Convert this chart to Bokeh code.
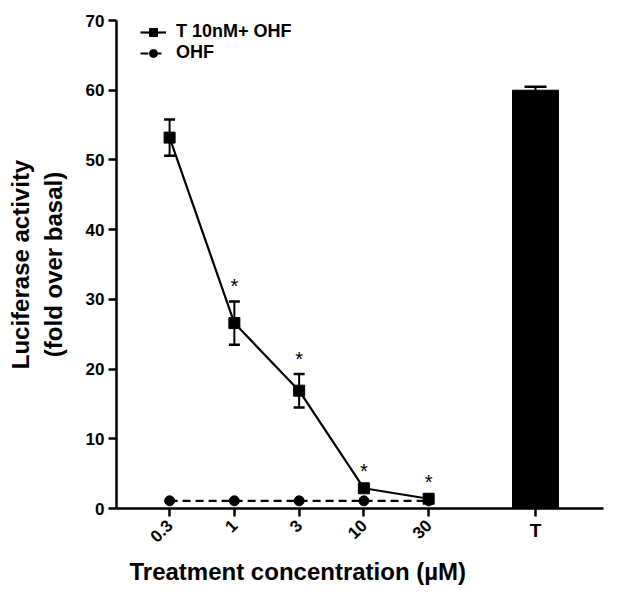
import numpy as np
from bokeh.plotting import figure
from bokeh.models import (ColumnDataSource, Whisker, TeeHead, FixedTicker, Range1d,
                          Legend, LegendItem, Label, Title)
from bokeh.core.properties import value
from bokeh.embed import file_html
from bokeh.resources import INLINE

# ---- data ----
conc_labels = ["0.3", "1", "3", "10", "30"]
conc_pos = [1, 2, 3, 4, 5]
t_ohf_mean = [53.2, 26.6, 16.9, 2.9, 1.4]
t_ohf_err = [2.6, 3.1, 2.4, 0.3, 0.2]
ohf_mean = [1.1, 1.1, 1.1, 1.1, 1.1]
signif = [False, True, True, True, True]
t_label = "T"
t_pos = 6.65
t_mean = 60.0
t_err = 0.5

FONT = "Liberation Sans"

p = figure(width=621, height=601, output_backend="svg", toolbar_location=None,
           x_range=Range1d(0.18, 7.70), y_range=Range1d(0, 70),
           min_border_left=116, min_border_top=20, min_border_right=18, min_border_bottom=93)
p.outline_line_color = None
p.xgrid.visible = False
p.ygrid.visible = False

# bar for T
p.vbar(x=[t_pos], top=[t_mean], width=0.71, color="black")
bar_src = ColumnDataSource(dict(x=[t_pos], up=[t_mean + t_err], lo=[t_mean]))
p.add_layout(Whisker(source=bar_src, base="x", upper="up", lower="lo", dimension="height",
                     line_width=2, line_color="black",
                     upper_head=TeeHead(size=22, line_width=2.5, line_color="black"),
                     lower_head=None))

# OHF dashed line
l2 = p.line(conc_pos, ohf_mean, line_color="black", line_width=2.2, line_dash="8 5")
c2 = p.scatter(conc_pos, ohf_mean, marker="circle", size=10, color="black")

# T + OHF line
l1 = p.line(conc_pos, t_ohf_mean, line_color="black", line_width=2.2)
s1 = p.scatter(conc_pos, t_ohf_mean, marker="square", size=11, color="black")
up = [m + e for m, e in zip(t_ohf_mean, t_ohf_err)]
lo = [m - e for m, e in zip(t_ohf_mean, t_ohf_err)]
err_src = ColumnDataSource(dict(x=conc_pos, up=up, lo=lo))
p.add_layout(Whisker(source=err_src, base="x", upper="up", lower="lo", dimension="height",
                     line_width=2, line_color="black",
                     upper_head=TeeHead(size=11, line_width=2.5, line_color="black"),
                     lower_head=TeeHead(size=11, line_width=2.5, line_color="black")))

# significance asterisks
sx = [x for x, s in zip(conc_pos, signif) if s]
sy = [u + 0.6 for u, s in zip(up, signif) if s]
p.text(x=sx, y=sy, text=["*"] * len(sx), text_align="center", text_baseline="bottom",
       text_font=value(FONT), text_font_size="20px", text_color="black")

# axes
ticks = conc_pos + [t_pos]
p.xaxis.ticker = FixedTicker(ticks=ticks)
overrides = {x: l for x, l in zip(conc_pos, conc_labels)}
overrides[t_pos] = ""
p.xaxis.major_label_overrides = overrides
p.xaxis.major_label_orientation = np.pi / 4
p.yaxis.ticker = FixedTicker(ticks=list(range(0, 71, 10)))
for ax in (p.xaxis, p.yaxis):
    ax.axis_line_width = 2.5
    ax.axis_line_color = "black"
    ax.major_tick_line_width = 2.5
    ax.major_tick_line_color = "black"
    ax.major_tick_in = 0
    ax.major_tick_out = 8
    ax.minor_tick_line_color = None
    ax.major_label_text_font = FONT
    ax.major_label_text_font_style = "bold"
    ax.major_label_text_font_size = "17px"
    ax.major_label_text_color = "black"
    ax.axis_label_text_font = FONT
    ax.axis_label_text_font_style = "bold"
    ax.axis_label_text_font_size = "24px"
    ax.axis_label_text_color = "black"
p.xaxis.major_label_standoff = 6
p.yaxis.major_label_standoff = 4
p.yaxis.axis_label = "Luciferase activity\n(fold over basal)"
p.yaxis.axis_label_standoff = 16
p.yaxis.axis_label_text_line_height = 1.2

# T tick label (unrotated); kept in a side panel so it is not clipped by the frame
p.add_layout(Label(x=t_pos, y=-1.6, text=t_label, text_align="center",
                   text_baseline="top", text_font=FONT, text_font_style="bold",
                   text_font_size="19px", text_color="black"), "right")

p.add_layout(Title(text="Treatment concentration (\u00b5M)", align="left", offset=13,
                   text_font=FONT, text_font_style="bold", text_font_size="24px",
                   text_color="black", standoff=11), "below")

legend = Legend(items=[LegendItem(label="T 10nM+ OHF", renderers=[l1, s1]),
                       LegendItem(label="OHF", renderers=[l2, c2])],
                border_line_color=None, background_fill_alpha=0,
                label_text_font=FONT, label_text_font_style="bold", label_text_font_size="18px",
                label_text_color="black",
                glyph_width=26, spacing=0, padding=0, margin=0, label_height=20,
                glyph_height=20, label_standoff=10)
legend.location = (24, 445)
p.add_layout(legend)

open("out.html", "w").write(file_html(p, INLINE))
